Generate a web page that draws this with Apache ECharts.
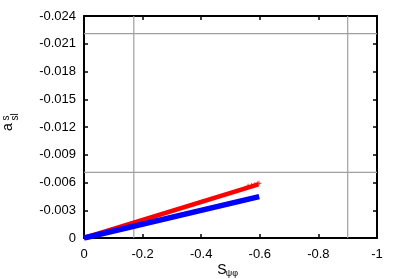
<!DOCTYPE html>
<html><head><meta charset="utf-8">
<script src="https://cdn.jsdelivr.net/npm/echarts@6/dist/echarts.min.js"></script>
<style>html,body{margin:0;padding:0;background:#fff}#c{width:399px;height:279px}</style>
</head><body><div id="c"></div>
<script>
// Data
const redX = [0, -0.595];
const redY = [0, -0.0058];
const blueX = [0, -0.598];
const blueY = [0, -0.00448];
const redTipX = [-0.560, -0.572, -0.583, -0.592, -0.597];
const redTipY = [-0.00560, -0.00568, -0.00575, -0.00584, -0.00592];
const vLines = [-0.17, -0.9];
const hLines = [-0.0071, -0.0221];
const xTicks = [0, -0.2, -0.4, -0.6, -0.8, -1];
const yTicks = [0, -0.003, -0.006, -0.009, -0.012, -0.015, -0.018, -0.021, -0.024];

const FONT = 'Liberation Sans';
const chart = echarts.init(document.getElementById('c'), null, {renderer: 'canvas'});
const pair = (xs, ys) => xs.map((x, i) => [x, ys[i]]);
const plus = 'path://M0,-1L0,1M-1,0L1,0';
const xMin = xTicks[xTicks.length - 1], xMax = xTicks[0];
const yMin = yTicks[yTicks.length - 1], yMax = yTicks[0];

const axisCommon = {
  type: 'value', inverse: true, splitLine: {show: false},
  axisLine: {show: true, onZero: false, lineStyle: {color: '#000', width: 2}},
  axisTick: {show: true, inside: true, length: 4, lineStyle: {color: '#000', width: 1.5}}
};

const grayStyle = {color: '#a0a0a0', width: 1.2};
const graySeries = vLines.map(v => ({
  type: 'line', data: [[v, yMin], [v, yMax]], symbol: 'none', silent: true,
  lineStyle: grayStyle, z: 1
})).concat(hLines.map(v => ({
  type: 'line', data: [[xMin, v], [xMax, v]], symbol: 'none', silent: true,
  lineStyle: grayStyle, z: 1
})));

chart.setOption({
  animation: false,
  grid: {left: 84, right: 22, top: 16, bottom: 41},
  xAxis: [
    Object.assign({}, axisCommon, {
      min: xMin, max: xMax, interval: 0.2, position: 'bottom',
      axisLabel: {color: '#000', fontFamily: FONT, fontSize: 13, margin: 10,
        formatter: v => (Math.abs(v) < 1e-9 ? '0' : String(+v.toFixed(1)))}
    }),
    Object.assign({}, axisCommon, {
      min: xMin, max: xMax, interval: 0.2, position: 'top',
      axisLabel: {show: false}
    })
  ],
  yAxis: [
    Object.assign({}, axisCommon, {
      min: yMin, max: yMax, interval: 0.003, position: 'left',
      axisLabel: {color: '#000', fontFamily: FONT, fontSize: 13, margin: 8,
        formatter: v => (Math.abs(v) < 1e-9 ? '0' : v.toFixed(3))}
    }),
    Object.assign({}, axisCommon, {
      min: yMin, max: yMax, interval: 0.003, position: 'right',
      axisLabel: {show: false}
    })
  ],
  series: graySeries.concat([
    {
      type: 'line', data: pair(redX, redY), showSymbol: false, symbol: 'none',
      lineStyle: {color: '#ff0000', width: 4.5, cap: 'butt'}, z: 3
    },
    {
      type: 'scatter', data: pair(redTipX, redTipY), symbol: plus, symbolSize: 5,
      itemStyle: {color: 'transparent', borderColor: '#ff0000', borderWidth: 1}, z: 3
    },
    {
      type: 'line', data: pair(blueX, blueY), showSymbol: false, symbol: 'none',
      lineStyle: {color: '#0000ff', width: 5.5, cap: 'butt'}, z: 4
    }
  ]),
  graphic: [
    {type: 'text', x: 8, y: 127, rotation: Math.PI / 2,
      style: {text: 'a', font: '14px ' + FONT, fill: '#000', align: 'center', verticalAlign: 'middle'}},
    {type: 'text', x: 6, y: 118, rotation: Math.PI / 2,
      style: {text: 's', font: '10px ' + FONT, fill: '#000', align: 'center', verticalAlign: 'middle'}},
    {type: 'text', x: 15, y: 117, rotation: Math.PI / 2,
      style: {text: 'sl', font: '10px ' + FONT, fill: '#000', align: 'center', verticalAlign: 'middle'}},
    {type: 'text', x: 222, y: 270,
      style: {text: 'S', font: '14px ' + FONT, fill: '#000', align: 'center', verticalAlign: 'middle'}},
    {type: 'text', x: 232, y: 274,
      style: {text: 'ψφ', font: '9px ' + FONT, fill: '#000', align: 'center', verticalAlign: 'middle'}}
  ]
});
</script></body></html>
